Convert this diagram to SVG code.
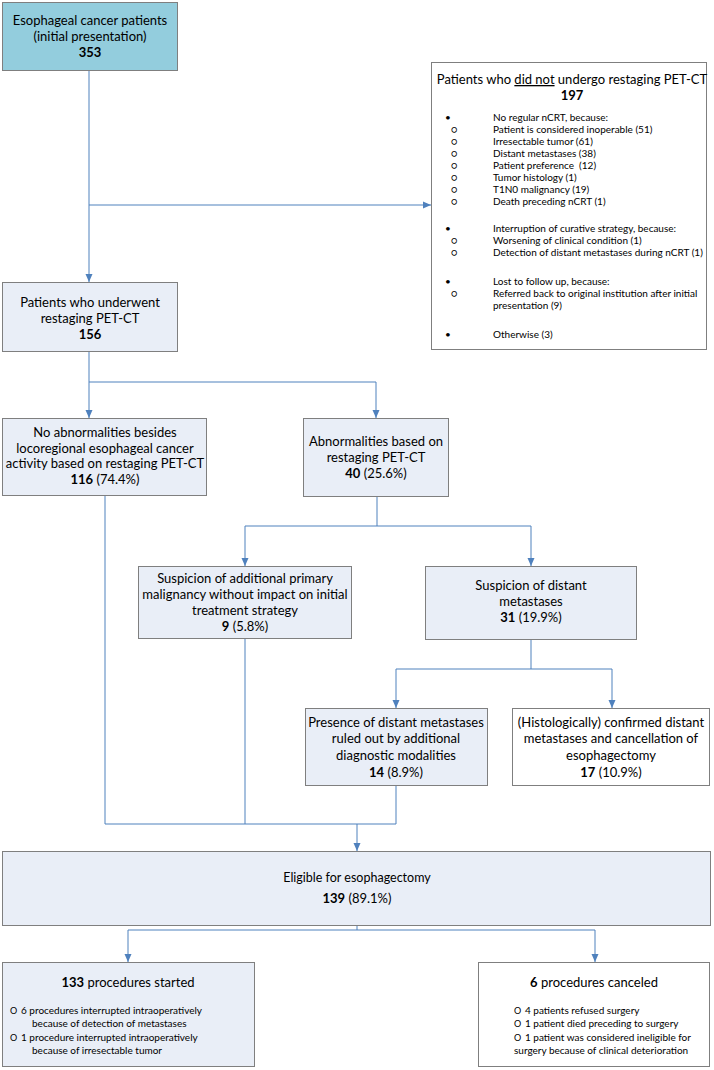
<svg xmlns="http://www.w3.org/2000/svg" width="714" height="1070" viewBox="0 0 714 1070">
<defs>
<style>
.box{fill:#E9EEF7;stroke:#7F7F7F;stroke-width:1}
.wbox{fill:#FFFFFF;stroke:#7F7F7F;stroke-width:1}
.top{fill:#93CDDD;stroke:#7F7F7F;stroke-width:1}
.c{fill:none;stroke:#4F81BD;stroke-width:1}
.a{marker-end:url(#ar)}
text{font-family:Lato,"Liberation Sans",sans-serif;fill:#000}
.t{font-size:13px;text-anchor:middle}
.b{font-weight:bold}
.m{font-size:10px;text-anchor:start}
.o{font-size:9px;text-anchor:start}
</style>
<marker id="ar" viewBox="0 0 8 8" refX="8" refY="4" markerWidth="8" markerHeight="8" markerUnits="userSpaceOnUse" orient="auto">
<path d="M0,0.5 L8,4 L0,7.5 Z" fill="#4F81BD"/>
</marker>
</defs>
<g id="connectors">
<path class="c a" d="M89,70 V282"/>
<path class="c a" d="M89,205 H431"/>
<path class="c" d="M89,352 V382 H376"/>
<path class="c a" d="M89,382 V418"/>
<path class="c a" d="M376,382 V418"/>
<path class="c" d="M377,497 V526 M245,526 H531"/>
<path class="c a" d="M245,526 V566"/>
<path class="c a" d="M531,526 V566"/>
<path class="c" d="M531,640 V669 M396,669 H612"/>
<path class="c a" d="M396,669 V708"/>
<path class="c a" d="M612,669 V708"/>
<path class="c" d="M105,495 V824 M245,639 V824 M396,786 V824 M105,824 H396"/>
<path class="c a" d="M357,824 V851"/>
<path class="c" d="M357,926 V930 M128,930 H595"/>
<path class="c a" d="M128,930 V962"/>
<path class="c a" d="M595,930 V962"/>
</g>
<g id="n-initial">
<rect class="top" x="2.5" y="2.5" width="175" height="68"/>
<text class="t" x="90" y="24.5">Esophageal cancer patients</text>
<text class="t" x="90" y="40.5">(initial presentation)</text>
<text class="t b" x="90" y="56.5">353</text>
</g>
<g id="n-notundergo">
<rect class="wbox" x="431.5" y="62.5" width="275" height="287"/>
<text class="t" x="572" y="84">Patients who <tspan text-decoration="underline">did not</tspan> undergo restaging PET-CT</text>
<text class="t b" x="572" y="100">197</text>
<text class="m" x="445" y="120.5">•</text><text class="m" x="493" y="120.5">No regular nCRT, because:</text>
<text class="m" x="451" y="132.5">○</text><text class="m" x="493" y="132.5">Patient is considered inoperable (51)</text>
<text class="m" x="451" y="144.5">○</text><text class="m" x="493" y="144.5">Irresectable tumor (61)</text>
<text class="m" x="451" y="156.5">○</text><text class="m" x="493" y="156.5">Distant metastases (38)</text>
<text class="m" x="451" y="168.5">○</text><text class="m" x="493" y="168.5" xml:space="preserve">Patient preference  (12)</text>
<text class="m" x="451" y="180.5">○</text><text class="m" x="493" y="180.5">Tumor histology (1)</text>
<text class="m" x="451" y="192.5">○</text><text class="m" x="493" y="192.5">T1N0 malignancy (19)</text>
<text class="m" x="451" y="205">○</text><text class="m" x="493" y="205">Death preceding nCRT (1)</text>
<text class="m" x="445" y="231.5">•</text><text class="m" x="493" y="231.5">Interruption of curative strategy, because:</text>
<text class="m" x="451" y="243.5">○</text><text class="m" x="493" y="243.5">Worsening of clinical condition (1)</text>
<text class="m" x="451" y="255.5">○</text><text class="m" x="493" y="255.5">Detection of distant metastases during nCRT (1)</text>
<text class="m" x="445" y="284.5">•</text><text class="m" x="493" y="284.5">Lost to follow up, because:</text>
<text class="m" x="451" y="296.5">○</text><text class="m" x="493" y="296.5">Referred back to original institution after initial</text>
<text class="m" x="493" y="308.5">presentation (9)</text>
<text class="m" x="445" y="337.5">•</text><text class="m" x="493" y="337.5">Otherwise (3)</text>
</g>
<g id="n-underwent">
<rect class="box" x="2.5" y="282.5" width="175" height="69"/>
<text class="t" x="90" y="306.5">Patients who underwent</text>
<text class="t" x="90" y="322.5">restaging PET-CT</text>
<text class="t b" x="90" y="338.5">156</text>
</g>
<g id="n-noabn">
<rect class="box" x="2.5" y="418.5" width="204" height="77"/>
<text class="t" x="105" y="437">No abnormalities besides</text>
<text class="t" x="105" y="452.5">locoregional esophageal cancer</text>
<text class="t" x="105" y="468">activity based on restaging PET-CT</text>
<text class="t" x="105" y="483.5"><tspan class="b">116</tspan> (74.4%)</text>
</g>
<g id="n-abn">
<rect class="box" x="303.5" y="418.5" width="145" height="78"/>
<text class="t" x="376" y="445.5">Abnormalities based on</text>
<text class="t" x="376" y="461.5">restaging PET-CT</text>
<text class="t" x="376" y="477.5"><tspan class="b">40</tspan> (25.6%)</text>
</g>
<g id="n-addprim">
<rect class="box" x="138.5" y="566.5" width="213" height="72"/>
<text class="t" x="245" y="582.5">Suspicion of additional primary</text>
<text class="t" x="245" y="598.5">malignancy without impact on initial</text>
<text class="t" x="245" y="614.5">treatment strategy</text>
<text class="t" x="245" y="630.5"><tspan class="b">9</tspan> (5.8%)</text>
</g>
<g id="n-distant">
<rect class="box" x="425.5" y="566.5" width="211" height="73"/>
<text class="t" x="531" y="589.5">Suspicion of distant</text>
<text class="t" x="531" y="605.5">metastases</text>
<text class="t" x="531" y="621.5"><tspan class="b">31</tspan> (19.9%)</text>
</g>
<g id="n-ruledout">
<rect class="box" x="305.5" y="708.5" width="182" height="77"/>
<text class="t" x="396" y="727">Presence of distant metastases</text>
<text class="t" x="396" y="743">ruled out by additional</text>
<text class="t" x="396" y="759.5">diagnostic modalities</text>
<text class="t" x="396" y="776.5"><tspan class="b">14</tspan> (8.9%)</text>
</g>
<g id="n-confirmed">
<rect class="wbox" x="512.5" y="708.5" width="197" height="77"/>
<text class="t" x="611" y="727">(Histologically) confirmed distant</text>
<text class="t" x="611" y="743">metastases and cancellation of</text>
<text class="t" x="611" y="759.5">esophagectomy</text>
<text class="t" x="611" y="776.5"><tspan class="b">17</tspan> (10.9%)</text>
</g>
<g id="n-eligible">
<rect class="box" x="2.5" y="851.5" width="708" height="74"/>
<text class="t" x="357" y="881.5" style="font-size:12.5px">Eligible for esophagectomy</text>
<text class="t" x="357" y="903"><tspan class="b">139</tspan> (89.1%)</text>
</g>
<g id="n-started">
<rect class="box" x="2.5" y="962.5" width="252" height="104"/>
<text class="t" x="128" y="987"><tspan class="b">133</tspan> procedures started</text>
<text class="o" x="10" y="1013.5">O</text><text class="m" x="21" y="1013.5">6 procedures interrupted intraoperatively</text>
<text class="m" x="32" y="1026.5">because of detection of metastases</text>
<text class="o" x="10" y="1040.5">O</text><text class="m" x="21" y="1040.5">1 procedure interrupted intraoperatively</text>
<text class="m" x="32" y="1053.5">because of irresectable tumor</text>
</g>
<g id="n-canceled">
<rect class="wbox" x="478.5" y="962.5" width="231" height="104"/>
<text class="t" x="594" y="987"><tspan class="b">6</tspan> procedures canceled</text>
<text class="o" x="514" y="1013.5">O</text><text class="m" x="525" y="1013.5">4 patients refused surgery</text>
<text class="o" x="514" y="1026.5">O</text><text class="m" x="525" y="1026.5">1 patient died preceding to surgery</text>
<text class="o" x="514" y="1040.5">O</text><text class="m" x="525" y="1040.5">1 patient was considered ineligible for</text>
<text class="m" x="514" y="1053.5">surgery because of clinical deterioration</text>
</g>
</svg>
